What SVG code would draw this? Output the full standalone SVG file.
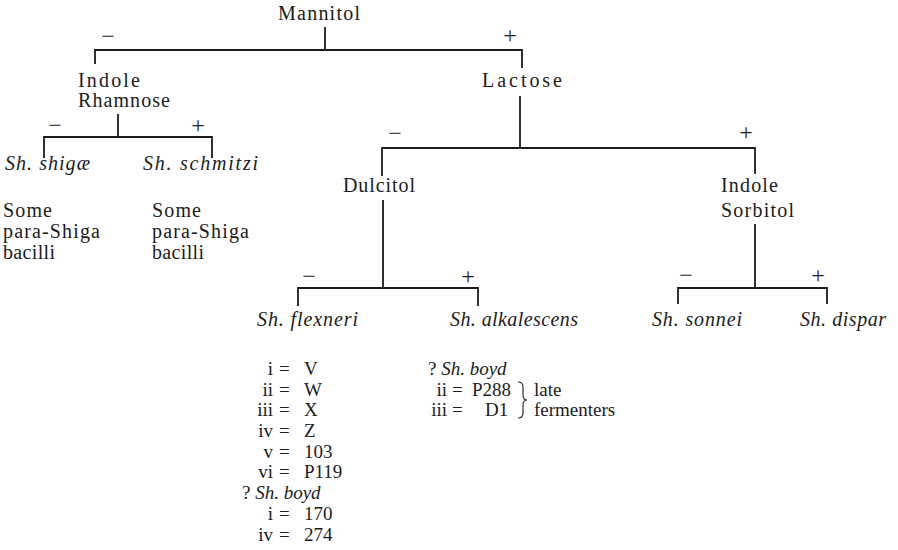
<svg xmlns="http://www.w3.org/2000/svg" width="898" height="550" viewBox="0 0 898 550">
<style>
text{font-family:"Liberation Serif","Times New Roman",serif;fill:#1c1c1c;font-size:20px}
.i{font-style:italic}
.l{font-size:19px}
.e{text-anchor:end}
.g{font-size:24px;text-anchor:middle}
.ln{stroke:#1c1c1c;stroke-width:1.8;fill:none}
.br{stroke:#1c1c1c;stroke-width:1.1;fill:none}
</style>
<rect width="898" height="550" fill="#ffffff"/>
<g id="connectors">
<path class="ln" d="M325,27V50M95,64V50H522V68"/>
<path class="ln" d="M118,114V137M44,158V137H212V158"/>
<path class="ln" d="M520,96V148M382,176V148H755V174"/>
<path class="ln" d="M383,200V288M298,306V288H478V306"/>
<path class="ln" d="M755,224V288M678,304V288H827V304"/>
</g>
<g id="signs">
<text class="g" x="108" y="44">−</text>
<text class="g" x="510" y="43">+</text>
<text class="g" x="55" y="133">−</text>
<text class="g" x="198" y="133">+</text>
<text class="g" x="395" y="141">−</text>
<text class="g" x="746" y="140">+</text>
<text class="g" x="309" y="284">−</text>
<text class="g" x="468" y="284">+</text>
<text class="g" x="686" y="283">−</text>
<text class="g" x="818" y="283">+</text>
</g>
<g id="mannitol"><text x="278" y="20" textLength="82">Mannitol</text></g>
<g id="indole-rhamnose">
<text x="78" y="87" textLength="62">Indole</text>
<text x="78" y="107" textLength="92">Rhamnose</text>
</g>
<g id="lactose"><text x="482" y="87" textLength="80">Lactose</text></g>
<g id="sh-shigae">
<text class="i" x="5" y="170" textLength="85">Sh. shigæ</text>
<text x="3" y="217" textLength="49">Some</text>
<text x="3" y="238" textLength="97">para-Shiga</text>
<text x="3" y="259" textLength="52">bacilli</text>
</g>
<g id="sh-schmitzi">
<text class="i" x="143" y="170" textLength="115">Sh. schmitzi</text>
<text x="152" y="217" textLength="49">Some</text>
<text x="152" y="238" textLength="97">para-Shiga</text>
<text x="152" y="259" textLength="52">bacilli</text>
</g>
<g id="dulcitol"><text x="343" y="192" textLength="72">Dulcitol</text></g>
<g id="indole-sorbitol">
<text x="721" y="192" textLength="57">Indole</text>
<text x="721" y="217" textLength="73">Sorbitol</text>
</g>
<g id="sh-flexneri">
<text class="i" x="257" y="326" textLength="101">Sh. flexneri</text>
<text class="l e" x="273" y="375">i</text><text class="l" x="279" y="375">=</text><text class="l" x="304" y="375">V</text>
<text class="l e" x="273" y="396">ii</text><text class="l" x="279" y="396">=</text><text class="l" x="304" y="396">W</text>
<text class="l e" x="273" y="416">iii</text><text class="l" x="279" y="416">=</text><text class="l" x="304" y="416">X</text>
<text class="l e" x="273" y="437">iv</text><text class="l" x="279" y="437">=</text><text class="l" x="304" y="437">Z</text>
<text class="l e" x="273" y="458">v</text><text class="l" x="279" y="458">=</text><text class="l" x="304" y="458">103</text>
<text class="l e" x="273" y="478">vi</text><text class="l" x="279" y="478">=</text><text class="l" x="304" y="478">P119</text>
<text class="l" x="242" y="499">? <tspan class="i">Sh. boyd</tspan></text>
<text class="l e" x="273" y="520">i</text><text class="l" x="279" y="520">=</text><text class="l" x="304" y="520">170</text>
<text class="l e" x="273" y="541">iv</text><text class="l" x="279" y="541">=</text><text class="l" x="304" y="541">274</text>
</g>
<g id="sh-alkalescens">
<text class="i" x="450" y="326" textLength="128">Sh. alkalescens</text>
<text class="l" x="428" y="375">? <tspan class="i">Sh. boyd</tspan></text>
<text class="l e" x="447" y="396">ii</text><text class="l" x="452" y="396">=</text><text class="l" x="472" y="396">P288</text>
<text class="l e" x="447" y="416">iii</text><text class="l" x="452" y="416">=</text><text class="l" x="485" y="416">D1</text>
<path class="br" d="M518,382q5,0 5,5v8q0,5 4,5q-4,0 -4,5v8q0,5 -5,5"/>
<text class="l" x="534" y="396">late</text>
<text class="l" x="534" y="416">fermenters</text>
</g>
<g id="sh-sonnei"><text class="i" x="652" y="326" textLength="90">Sh. sonnei</text></g>
<g id="sh-dispar"><text class="i" x="800" y="326" textLength="86">Sh. dispar</text></g>
</svg>
